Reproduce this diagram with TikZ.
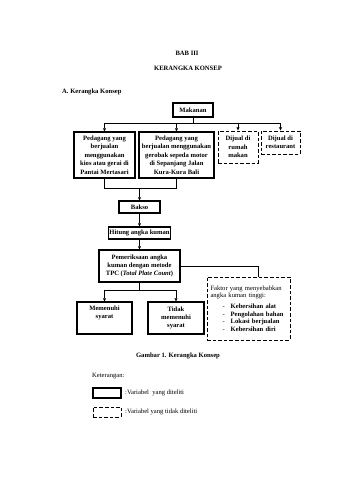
\documentclass[tikz,border=0pt]{standalone}
\usepackage{fontspec}
\setmainfont{Liberation Serif}
\usetikzlibrary{arrows.meta,positioning}

\begin{document}
\begin{tikzpicture}[x=1pt,y=-1pt,
    font=\fontsize{6.6}{8.4}\selectfont\bfseries,
    plain/.style={font=\fontsize{6.6}{8.4}\selectfont},
    solidbox/.style={draw,line width=1.1pt,align=center,inner sep=1pt},
    dashbox/.style={draw,line width=0.95pt,dash pattern=on 3.6pt off 2pt,align=center,inner sep=1pt},
    link/.style={line width=0.7pt},
    arr/.style={line width=0.7pt,-{Triangle[length=3.2pt,width=2.8pt]}}]
  \useasboundingbox (0,0) rectangle (339,480);

  % headings
  \node (bab) at (187,53) {BAB III};
  \node (judul) at (188,68) {KERANGKA KONSEP};
  \node[anchor=west,inner sep=0pt] (subjudul) at (62,92) {A. Kerangka Konsep};

  % boxes
  \node[solidbox,minimum width=40pt,minimum height=14pt] (makanan) at (193,110) {Makanan};
  \node[solidbox,minimum width=61pt,minimum height=46pt] (pedagangA) at (104.5,155)
    {Pedagang yang\\berjualan\\menggunakan\\kios atau gerai di\\Pantai Mertasari};
  \node[solidbox,minimum width=75pt,minimum height=46pt] (pedagangB) at (176.5,155)
    {Pedagang yang\\berjualan menggunakan\\gerobak sepeda motor\\di Sepanjang Jalan\\Kura-Kura Bali};
  \node[dashbox,minimum width=40pt,minimum height=32pt] (rumah) at (238,147)
    {Dijual di\\rumah\\makan};
  \node[dashbox,minimum width=39pt,minimum height=23pt] (restoran) at (280.5,142.5)
    {Dijual di\\restaurant};
  \node[solidbox,minimum width=41pt,minimum height=12pt] (bakso) at (139.5,207) {Bakso};
  \node[solidbox,minimum width=59pt,minimum height=12pt] (hitung) at (139.5,233) {Hitung angka kuman};
  \node[solidbox,minimum width=81pt,minimum height=32pt] (periksa) at (139.5,266)
    {Pemeriksaan angka\\kuman dengan metode\\TPC (\textit{Total Plate Count})};
  \node[dashbox,minimum width=83pt,minimum height=63pt,text width=76pt,align=left,
        font=\fontsize{6.6}{7.6}\selectfont] (faktor) at (248.5,308.5)
    {Faktor yang menyebabkan\\angka kuman tinggi:\\[3pt]
     \hspace*{12pt}-\hspace{6pt}\textbf{Kebersihan alat}\\
     \hspace*{12pt}-\hspace{6pt}\textbf{Pengolahan bahan}\\
     \hspace*{12pt}-\hspace{6pt}\textbf{Lokasi berjualan}\\
     \hspace*{12pt}-\hspace{6pt}\textbf{Kebersihan diri}};
  \node[solidbox,minimum width=55pt,minimum height=32pt] (memenuhi) at (104.5,318)
    {Memenuhi\\syarat\\[3pt]};
  \node[solidbox,minimum width=56pt,minimum height=32pt] (tidak) at (176,318)
    {Tidak\\memenuhi\\syarat};

  % connectors
  \coordinate (split) at (193,123);
  \draw[link] (makanan.south) -- (split);
  \draw[link] (split -| pedagangA) -- (split -| restoran);
  \draw[arr] (split -| pedagangA) -- (pedagangA.north);
  \draw[arr] (split -| pedagangB) -- (pedagangB.north);
  \draw[arr] (split -| rumah) -- (rumah.north);
  \draw[arr] (split -| restoran) -- (restoran.north);

  \coordinate (join) at (139.5,188);
  \draw[link] (pedagangA.south) -- (pedagangA.south |- join)
    -- (pedagangB.south |- join) -- (pedagangB.south);
  \draw[arr] (join -| bakso) -- (bakso.north);
  \draw[arr] (bakso.south) -- (hitung.north);
  \draw[arr] (hitung.south) -- (periksa.north);
  \draw[link] (periksa.east) -| ([xshift=9.5pt]faktor.north);

  \coordinate (split2) at (139.5,290);
  \draw[link] (periksa.south) -- (split2);
  \draw[link] (split2 -| memenuhi) -- (split2 -| tidak);
  \draw[arr] (split2 -| memenuhi) -- (memenuhi.north);
  \draw[arr] (split2 -| tidak) -- (tidak.north);

  % caption and legend
  \node (gambar) at (178,356) {Gambar 1. Kerangka Konsep};
  \node[plain,anchor=west,inner sep=0pt] (keterangan) at (92,376) {Keterangan:};
  \node[solidbox,minimum width=28pt,minimum height=10pt] (legA) at (107,393) {};
  \node[dashbox,minimum width=28pt,minimum height=10pt] (legB) at (107,412) {};
  \node[plain,anchor=west,inner sep=0pt] (legAtext) at (125,393) {:Variabel\ \ yang diteliti};
  \node[plain,anchor=west,inner sep=0pt] (legBtext) at (125,412) {:Variabel yang tidak diteliti};
\end{tikzpicture}
\end{document}
